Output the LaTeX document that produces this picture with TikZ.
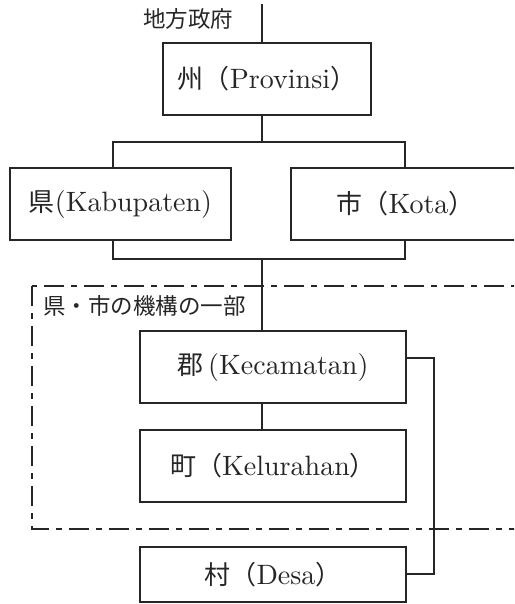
\documentclass[tikz,border=0pt]{standalone}
\usepackage{fontspec}
\setmainfont{lmroman10-regular.otf}
\newfontfamily\jp{Noto Sans CJK JP}
\definecolor{ink}{HTML}{262626}
\newcommand\jtxt[1]{{\jp\fontsize{26}{30}\selectfont #1}}
\tikzset{
  box/.style={draw=ink, line width=2.5pt, minimum height=72pt, inner sep=0pt, text=ink,
    font=\fontsize{28}{32}\selectfont},
  conn/.style={draw=ink, line width=2.5pt},
  dashbox/.style={draw=ink, line width=2pt, dash pattern=on 20pt off 7pt on 6pt off 7pt},
  jplabel/.style={font=\jp\fontsize{22.5}{26}\selectfont, text=ink, inner sep=0pt}
}
\begin{document}
\begin{tikzpicture}[x=1pt,y=-1pt]
\clip (0,0) rectangle (514,604);
\fill[white] (0,0) rectangle (514,604);
% boxes
\node[box, minimum width=208pt] (prov) at (267,79) {\jtxt{州（}Provinsi\jtxt{）}};
\node[box, minimum width=221pt] (kab) at (120.5,204) {\jtxt{県}(Kabupaten)};
\node[box, minimum width=229pt] (kota) at (405.5,204) {\jtxt{市（}Kota\jtxt{）}};
\node[box, minimum width=266pt] (kec) at (273,367) {\jtxt{郡}\,(Kecamatan)};
\node[box, minimum width=266pt] (kel) at (273,466) {\jtxt{町（}Kelurahan\jtxt{）}};
\node[box, minimum width=266pt, minimum height=55pt] (desa) at (273,574.5) {\jtxt{村（}Desa\jtxt{）}};
% labels
\node[jplabel, anchor=west] (lbltop) at (143,19) {地方政府};
\node[jplabel, anchor=west] (lblbox) at (43,306) {県・市の機構の一部};
% dashed region
\draw[dashbox] (32,286) rectangle (545,529);
% connectors
\coordinate (top) at (262,4);
\coordinate (j1) at (262,142);
\coordinate (ka) at (113,142);
\coordinate (ko) at (405,142);
\coordinate (kb) at (113,259);
\coordinate (kc) at (405,259);
\coordinate (j2) at (262,259);
\coordinate (r1) at (434,358);
\coordinate (r2) at (434,574);
\draw[conn] (top) -- (prov.north -| top);
\draw[conn] (prov.south -| j1) -- (j1);
\draw[conn] (kab.north -| ka) -- (ka) -- (ko) -- (kota.north -| ko);
\draw[conn] (kab.south -| kb) -- (kb) -- (kc) -- (kota.south -| kc);
\draw[conn] (j2) -- (kec.north -| j2);
\draw[conn] (kec.south -| j2) -- (kel.north -| j2);
\draw[conn] (kec.east |- r1) -- (r1) -- (r2) -- (desa.east |- r2);
\end{tikzpicture}
\end{document}
